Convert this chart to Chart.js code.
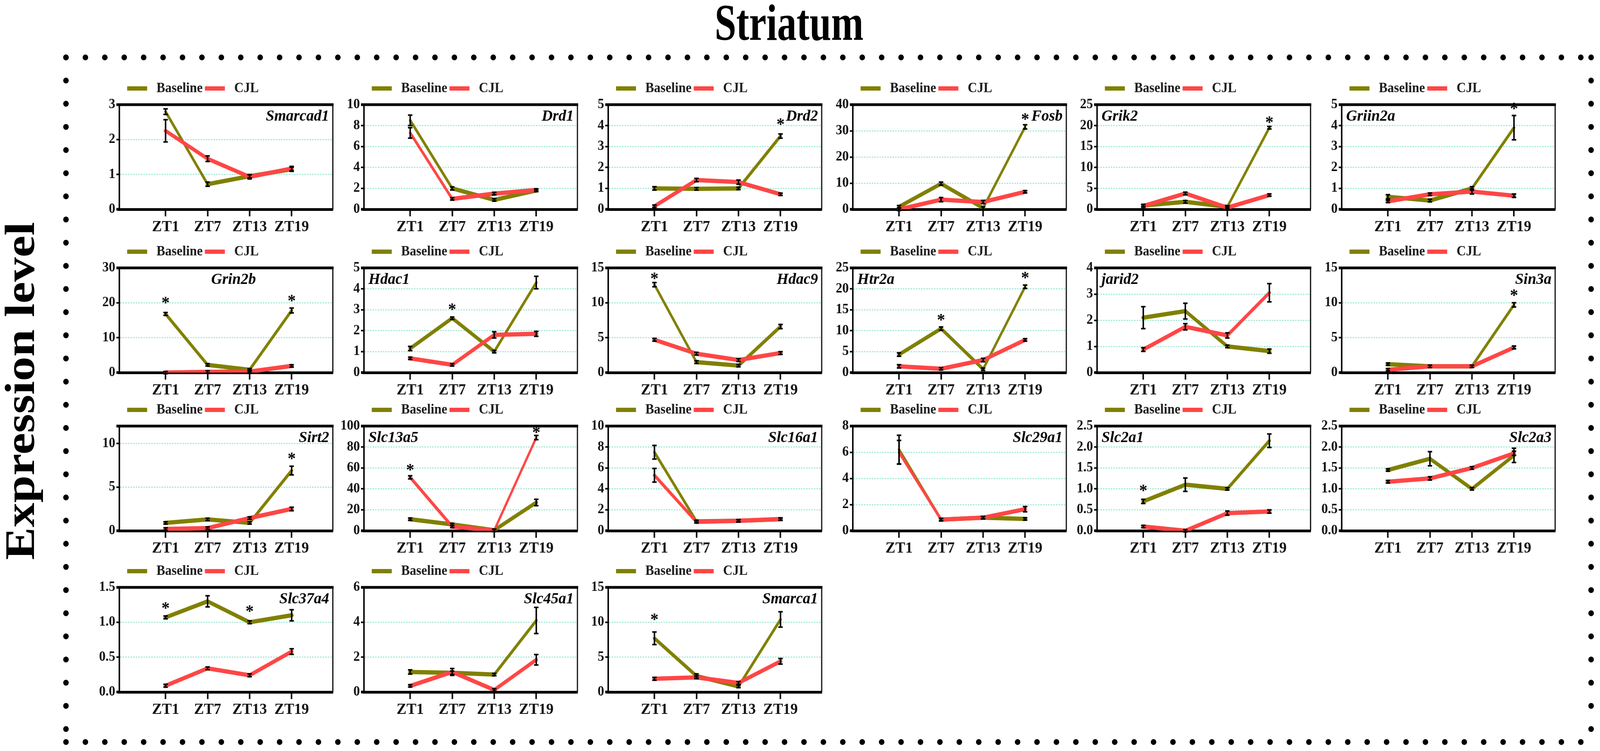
<!DOCTYPE html>
<html>
<head>
<meta charset="utf-8">
<title>Striatum</title>
<script src="https://cdn.jsdelivr.net/npm/chart.js@4.4.1/dist/chart.umd.min.js"></script>
<style>
  html, body { margin: 0; padding: 0; background: #fff; overflow: hidden; }
  #page { position: absolute; left: 0; top: 0; width: 4317px; height: 1923px; transform-origin: 0 0; font-family: "Liberation Serif", "Times New Roman", serif; }
  #title { position: absolute; left: 2129px; top: -8px; font-size: 131px; line-height: 131px; font-weight: bold; white-space: nowrap; color: #000; transform: translateX(-50%) scaleX(0.8); }
  #ylabel { position: absolute; left: 53px; top: 1001px; font-size: 113px; line-height: 113px; font-weight: bold; white-space: nowrap; color: #000; transform: translate(-50%, -50%) rotate(-90deg) scaleX(1.11); }
  #dots { position: absolute; left: 0; top: 0; }
  canvas.panel { position: absolute; }
</style>
</head>
<body>
<div id="page">
<div id="title">Striatum</div>
<div id="ylabel">Expression level</div>
<svg id="dots" width="4317" height="1923">
  <g stroke="#000" stroke-width="15" stroke-linecap="round" fill="none">
    <line x1="178" y1="147" x2="4293" y2="147" stroke-dasharray="0 52.4"/>
    <line x1="178" y1="1900" x2="4293" y2="1900" stroke-dasharray="0 52.4"/>
    <line x1="178" y1="147" x2="178" y2="1900" stroke-dasharray="0 59.3"/>
    <line x1="4293" y1="147" x2="4293" y2="1900" stroke-dasharray="0 59.3"/>
  </g>
</svg>
</div>
<script>
// ---- data ----
const timepoints = ['ZT1', 'ZT7', 'ZT13', 'ZT19'];

const genes = ['Smarcad1', 'Drd1', 'Drd2', 'Fosb', 'Grik2', 'Griin2a',
               'Grin2b', 'Hdac1', 'Hdac9', 'Htr2a', 'jarid2', 'Sin3a',
               'Sirt2', 'Slc13a5', 'Slc16a1', 'Slc29a1', 'Slc2a1', 'Slc2a3',
               'Slc37a4', 'Slc45a1', 'Smarca1'];

const baseline = [
  [2.8, 0.72, 0.95, 1.15], [8.5, 2.0, 0.9, 1.8], [1.0, 0.98, 1.0, 3.5],
  [1.0, 9.8, 0.5, 31.5], [0.9, 1.8, 0.6, 19.5], [0.6, 0.42, 1.0, 3.9],
  [16.8, 2.2, 0.8, 17.8], [1.15, 2.6, 1.0, 4.3], [12.6, 1.5, 1.0, 6.6],
  [4.3, 10.5, 0.8, 20.5], [2.1, 2.35, 1.0, 0.82], [1.2, 0.9, 0.9, 9.7],
  [0.9, 1.3, 0.9, 6.9], [11, 6, 0.5, 27], [7.5, 0.9, 0.95, 1.1],
  [6.2, 0.85, 1.0, 0.9], [0.7, 1.1, 1.0, 2.15], [1.45, 1.72, 1.0, 1.8],
  [1.07, 1.3, 1.0, 1.1], [1.15, 1.1, 1.0, 4.1], [7.7, 2.3, 0.8, 10.4]
];
const baselineErr = [
  [0.08, 0.06, 0.05, 0.06], [0.5, 0.15, 0.1, 0.1], [0.08, 0.06, 0.05, 0.1],
  [0.3, 0.6, 0.3, 0.8], [0.2, 0.3, 0.2, 0.3], [0.1, 0.06, 0.08, 0.58],
  [0.4, 0.3, 0.2, 0.7], [0.1, 0.05, 0.05, 0.3], [0.3, 0.2, 0.1, 0.3],
  [0.4, 0.4, 0.2, 0.4], [0.42, 0.3, 0.05, 0.08], [0.1, 0.1, 0.1, 0.3],
  [0.1, 0.1, 0.1, 0.5], [1, 0.8, 0.3, 3], [0.65, 0.08, 0.05, 0.05],
  [1.1, 0.08, 0.08, 0.08], [0.05, 0.16, 0.02, 0.16], [0.02, 0.17, 0.02, 0.17],
  [0.02, 0.08, 0.02, 0.08], [0.12, 0.1, 0.05, 0.75], [0.9, 0.3, 0.1, 1.1]
];
const cjl = [
  [2.25, 1.45, 0.93, 1.17], [7.3, 1.0, 1.5, 1.85], [0.15, 1.4, 1.3, 0.72],
  [0, 3.7, 2.8, 6.7], [0.8, 3.8, 0.4, 3.4], [0.38, 0.72, 0.85, 0.65],
  [0, 0.2, 0.3, 1.9], [0.68, 0.37, 1.8, 1.85], [4.7, 2.7, 1.8, 2.8],
  [1.5, 0.9, 3.0, 7.8], [0.88, 1.75, 1.42, 3.05], [0.4, 0.9, 0.9, 3.6],
  [0.2, 0.3, 1.45, 2.5], [51, 4, 0.3, 89], [5.3, 0.85, 0.95, 1.12],
  [6.0, 0.85, 1.0, 1.65], [0.1, 0.0, 0.42, 0.46], [1.17, 1.25, 1.5, 1.85],
  [0.09, 0.34, 0.24, 0.58], [0.35, 1.15, 0.12, 1.85], [1.9, 2.1, 1.3, 4.4]
];
const cjlErr = [
  [0.32, 0.08, 0.06, 0.06], [0.5, 0.1, 0.12, 0.1], [0.03, 0.08, 0.1, 0.05],
  [0.2, 0.8, 0.6, 0.4], [0.3, 0.3, 0.2, 0.2], [0.05, 0.06, 0.12, 0.08],
  [0.1, 0.1, 0.1, 0.3], [0.05, 0.03, 0.15, 0.12], [0.2, 0.2, 0.2, 0.2],
  [0.4, 0.2, 0.4, 0.3], [0.07, 0.12, 0.1, 0.35], [0.1, 0.15, 0.15, 0.2],
  [0.05, 0.1, 0.1, 0.2], [1.5, 0.5, 0.3, 2], [0.65, 0.05, 0.05, 0.05],
  [0.9, 0.1, 0.1, 0.2], [0.02, 0.01, 0.05, 0.04], [0.03, 0.04, 0.03, 0.05],
  [0.02, 0.02, 0.02, 0.04], [0.05, 0.2, 0.05, 0.3], [0.2, 0.2, 0.2, 0.4]
];

const yTicks = [
  [0, 1, 2, 3], [0, 2, 4, 6, 8, 10], [0, 1, 2, 3, 4, 5],
  [0, 10, 20, 30, 40], [0, 5, 10, 15, 20, 25], [0, 1, 2, 3, 4, 5],
  [0, 10, 20, 30], [0, 1, 2, 3, 4, 5], [0, 5, 10, 15],
  [0, 5, 10, 15, 20, 25], [0, 1, 2, 3, 4], [0, 5, 10, 15],
  [0, 5, 10], [0, 20, 40, 60, 80, 100], [0, 2, 4, 6, 8, 10],
  [0, 2, 4, 6, 8], [0, 0.5, 1, 1.5, 2, 2.5], [0, 0.5, 1, 1.5, 2, 2.5],
  [0, 0.5, 1, 1.5], [0, 2, 4, 6], [0, 5, 10, 15]
];
const yMax = [3, 10, 5, 40, 25, 5, 30, 5, 15, 25, 4, 15, 12, 100, 10, 8, 2.5, 2.5, 1.5, 6, 15];

// where the gene name sits: R = top right, L = top left, number = centre as share of width
const labelPos = ['R', 'R', 'R', 'R', 'L', 'L',
                  0.535, 'L', 'R', 'L', 'L', 'R',
                  'R', 'L', 'R', 'R', 'L', 'R',
                  'R', 'R', 'R'];

// [panel, timepoint, height of the asterisk]
const stars = [
  [2, 3, 4.2], [3, 3, 35.5], [4, 3, 21.5], [5, 3, 4.95],
  [6, 0, 20.8], [6, 3, 21.4], [7, 1, 3.15], [8, 0, 13.9],
  [9, 1, 13.2], [9, 3, 23.3], [11, 3, 11.5], [12, 3, 8.6],
  [13, 0, 61], [13, 3, 96.5], [16, 0, 1.03], [18, 0, 1.24],
  [18, 2, 1.2], [20, 0, 10.8]
];

// ---- layout ----
const PAGE_W = 4317, PAGE_H = 1923;
const colLeft = [322, 982, 1641, 2301, 2960, 3620];
const rowTop = [268, 686, 1091, 1504];
const BOX_W = 576, BOX_H = 268;
const Y_AXIS_W = 100, X_AXIS_H = 80, TOP_H = 82, RIGHT_PAD = 24;
const CANVAS_W = Y_AXIS_W + BOX_W + RIGHT_PAD;
const CANVAS_H = TOP_H + BOX_H + X_AXIS_H;
const X_MIN = -1.1, X_MAX = 3.98;
const LINE_W = 11, SQUEEZE = 0.4;
const FONT = 'Liberation Serif';
const OLIVE = '#808000', RED = '#ff4646';

// the window may be narrower than the figure: fit the figure to it
const page = document.getElementById('page');
const vw = window.innerWidth, vh = window.innerHeight;
if (vw > 0 && vh > 0 && (vw !== PAGE_W || vh !== PAGE_H)) {
  page.style.transform = 'scale(' + (vw / PAGE_W) + ',' + (vh / PAGE_H) + ')';
}

// lines look thick when flat and thin when steep
const segWidth = c => {
  const dx = c.p1.x - c.p0.x, dy = c.p1.y - c.p0.y;
  const len = Math.hypot(dx, dy) || 1;
  return LINE_W * Math.sqrt(dx * dx + SQUEEZE * SQUEEZE * dy * dy) / len;
};

const panelDecor = {
  id: 'panelDecor',
  afterLayout(chart) {
    const lg = chart.legend;
    if (!lg) return;
    lg.top -= 14; lg.bottom -= 14;
    lg.left += 115; lg.right += 115;
  },
  afterDatasetsDraw(chart, args, opts) {
    const { ctx, chartArea: a, scales: { x, y } } = chart;
    ctx.save();
    // error bars
    ctx.strokeStyle = '#000';
    ctx.lineCap = 'butt';
    chart.data.datasets.forEach(ds => {
      ds.data.forEach((p, i) => {
        const e = ds.errors[i];
        const px = x.getPixelForValue(p.x);
        let y0 = y.getPixelForValue(p.y + e), y1 = y.getPixelForValue(p.y - e);
        if (y1 - y0 < 6) { const m = (y0 + y1) / 2; y0 = m - 3; y1 = m + 3; }
        ctx.lineWidth = 4;
        ctx.beginPath();
        ctx.moveTo(px, y0); ctx.lineTo(px, y1);
        ctx.moveTo(px - 6, y0); ctx.lineTo(px + 6, y0);
        ctx.moveTo(px - 6, y1); ctx.lineTo(px + 6, y1);
        ctx.stroke();
      });
    });
    // frame
    ctx.lineWidth = 7;
    ctx.beginPath();
    ctx.moveTo(a.left - 8, a.top); ctx.lineTo(a.right + 2, a.top);
    ctx.moveTo(a.left - 8, a.bottom); ctx.lineTo(a.left + 2, a.bottom);
    ctx.stroke();
    ctx.lineWidth = 3;
    ctx.beginPath();
    ctx.moveTo(a.right, a.top); ctx.lineTo(a.right, a.bottom);
    ctx.stroke();
    ctx.restore();
  },
  afterDraw(chart, args, opts) {
    const { ctx, chartArea: a, scales: { x, y } } = chart;
    ctx.save();
    ctx.fillStyle = '#000';
    // gene name
    ctx.font = 'italic bold 41px "' + FONT + '"';
    ctx.textBaseline = 'alphabetic';
    let lx;
    if (opts.pos === 'R') { ctx.textAlign = 'right'; lx = a.right - 10; }
    else if (opts.pos === 'L') { ctx.textAlign = 'left'; lx = a.left + 12; }
    else { ctx.textAlign = 'center'; lx = a.left + opts.pos * (a.right - a.left); }
    ctx.fillText(opts.gene, lx, a.top + 41);
    // significance marks
    ctx.font = 'bold 44px "' + FONT + '"';
    ctx.textAlign = 'center';
    opts.stars.forEach(s => {
      ctx.fillText('*', x.getPixelForValue(s[1]), y.getPixelForValue(s[2]) + 21);
    });
    ctx.restore();
  }
};

const toPoints = vals => vals.map((v, i) => ({ x: i, y: v }));

genes.forEach((gene, g) => {
  const canvas = document.createElement('canvas');
  canvas.className = 'panel';
  canvas.width = CANVAS_W;
  canvas.height = CANVAS_H;
  canvas.style.width = CANVAS_W + 'px';
  canvas.style.height = CANVAS_H + 'px';
  canvas.style.left = (colLeft[g % 6] - Y_AXIS_W) + 'px';
  canvas.style.top = (rowTop[Math.floor(g / 6)] - TOP_H) + 'px';
  page.appendChild(canvas);

  const decimals = yTicks[g].some(v => v % 1 !== 0) ? 1 : 0;

  new Chart(canvas, {
    type: 'line',
    data: {
      datasets: [
        {
          label: 'Baseline',
          data: toPoints(baseline[g]),
          errors: baselineErr[g],
          borderColor: OLIVE,
          backgroundColor: OLIVE,
          borderWidth: 2,
          order: 1,
          segment: { borderWidth: segWidth }
        },
        {
          label: 'CJL',
          data: toPoints(cjl[g]),
          errors: cjlErr[g],
          borderColor: RED,
          backgroundColor: RED,
          borderWidth: 2,
          order: 0,
          segment: { borderWidth: segWidth }
        }
      ]
    },
    options: {
      responsive: false,
      maintainAspectRatio: false,
      devicePixelRatio: 1,
      animation: false,
      events: [],
      layout: { padding: { top: 30, left: 0, right: RIGHT_PAD, bottom: 0 } },
      elements: {
        line: { tension: 0, fill: false, borderCapStyle: 'round', borderJoinStyle: 'round' },
        point: { radius: 0 }
      },
      plugins: {
        legend: {
          display: true,
          position: 'top',
          align: 'start',
          labels: {
            boxWidth: 52,
            boxHeight: 9,
            padding: 7,
            color: '#1a1a1a',
            font: { family: FONT, size: 35, weight: 'bold' },
            generateLabels: chart => Chart.defaults.plugins.legend.labels.generateLabels(chart)
              .map(l => Object.assign(l, { text: ' ' + l.text })),
            sort: (a, b) => a.datasetIndex - b.datasetIndex
          }
        },
        tooltip: { enabled: false },
        panelDecor: { gene: gene, pos: labelPos[g], stars: stars.filter(s => s[0] === g) }
      },
      scales: {
        x: {
          type: 'linear',
          position: 'bottom',
          min: X_MIN,
          max: X_MAX,
          afterBuildTicks: s => { s.ticks = timepoints.map((t, i) => ({ value: i })); },
          afterFit: s => { s.height = X_AXIS_H; },
          ticks: {
            autoSkip: false,
            maxRotation: 0,
            padding: 4,
            color: '#111',
            font: { family: FONT, size: 40, weight: 'bold' },
            callback: v => timepoints[Math.round(v)]
          },
          grid: { display: true, drawOnChartArea: false, drawTicks: true, tickLength: 18, tickWidth: 4, tickColor: '#000' },
          border: { display: true, color: '#000', width: 7 }
        },
        y: {
          min: 0,
          max: yMax[g],
          afterBuildTicks: s => { s.ticks = yTicks[g].map(v => ({ value: v })); },
          afterFit: s => { s.width = Y_AXIS_W; },
          ticks: {
            autoSkip: false,
            padding: 3,
            color: '#111',
            font: { family: FONT, size: 35, weight: 'bold' },
            callback: v => v.toFixed(decimals)
          },
          grid: { color: '#a3ead9', lineWidth: 3, drawTicks: true, tickLength: 8, tickWidth: 4, tickColor: '#000' },
          border: { display: true, color: '#000', width: 4, dash: [4, 3] }
        }
      }
    },
    plugins: [panelDecor]
  });
});
</script>
</body>
</html>
